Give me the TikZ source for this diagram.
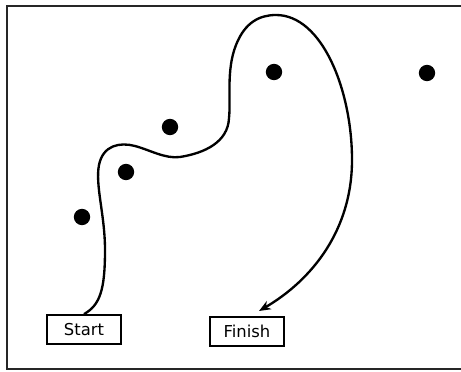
\documentclass[tikz,border=0pt]{standalone}
\usepackage{fontspec}
\setmainfont{DejaVu Sans}
\usetikzlibrary{arrows.meta}

\begin{document}
\begin{tikzpicture}
[x=0.03cm, y=-0.03cm,
dot/.style={circle, fill=black, inner sep=0pt, minimum size=0.49cm},
label box/.style={draw, line width=1.8pt, minimum width=2.2cm, minimum height=0.86cm, inner sep=0pt, font=\fontsize{14}{16}\selectfont},
frame/.style={line width=2.3pt, draw=black!85},
path line/.style={line width=2pt}]
\useasboundingbox (0,0) rectangle (461,371);
\draw[frame] (461,6) -- (7,6) -- (7,369) -- (461,369);

% the points
\node[dot] (p1) at (82,217) {};
\node[dot] (p2) at (126,172) {};
\node[dot] (p3) at (170,127) {};
\node[dot] (p4) at (274,72) {};
\node[dot] (p5) at (427,73) {};

% start and finish
\node[label box] (start) at (84,329.5) {Start};
\node[label box] (finish) at (247,331.5) {Finish};
\coordinate (tip) at (259,311);

\draw[path line, -{Stealth[length=10pt, width=8pt]}] (start.north)
  .. controls (100,305) and (105,290) .. (105,250)
  .. controls (105,215) and (95,185) .. (99,165)
  .. controls (103,145) and (120,142) .. (135,146)
  .. controls (150,150) and (165,159) .. (180,157)
  .. controls (205,153) and (228,142) .. (229,118)
  .. controls (231,100) and (226,70) .. (236,45)
  .. controls (245,22) and (260,15) .. (276,15)
  .. controls (322,15) and (352,90) .. (352,160)
  .. controls (352,230) and (312,280) .. (tip);
\end{tikzpicture}
\end{document}
